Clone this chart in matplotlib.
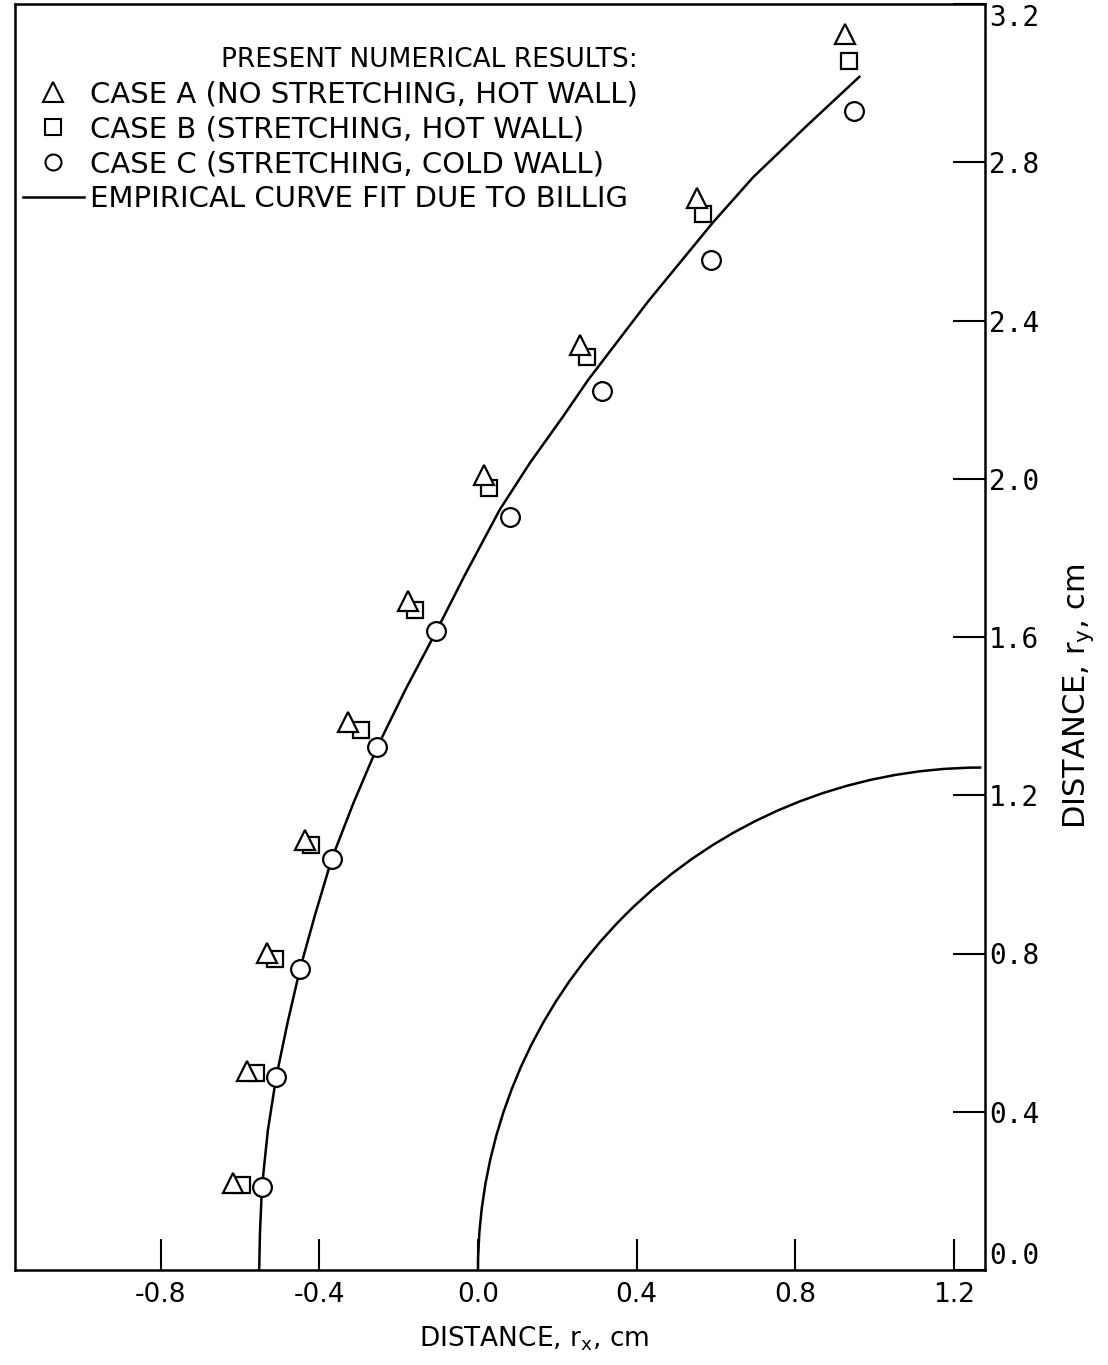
import matplotlib
matplotlib.use("Agg")
import matplotlib.pyplot as plt
from matplotlib.lines import Line2D
from matplotlib.patches import Arc

# case A: no stretching, hot wall
case_a_x = [-0.619, -0.583, -0.533, -0.436, -0.327, -0.177, 0.015, 0.257, 0.552, 0.927]
case_a_y = [0.219, 0.504, 0.802, 1.087, 1.386, 1.690, 2.010, 2.339, 2.710, 3.123]
# case B: stretching, hot wall
case_b_x = [-0.595, -0.560, -0.512, -0.421, -0.296, -0.159, 0.028, 0.274, 0.567, 0.936]
case_b_y = [0.215, 0.499, 0.786, 1.075, 1.364, 1.669, 1.977, 2.308, 2.670, 3.057]
# case C: stretching, cold wall
case_c_x = [-0.546, -0.509, -0.449, -0.369, -0.254, -0.106, 0.081, 0.312, 0.588, 0.949]
case_c_y = [0.210, 0.488, 0.760, 1.038, 1.323, 1.614, 1.904, 2.221, 2.553, 2.930]

# empirical curve fit (Billig)
billig_x = [-0.552, -0.550, -0.545, -0.530, -0.509, -0.480, -0.449, -0.411, -0.369,
            -0.314, -0.254, -0.183, -0.106, -0.035, 0.055, 0.131, 0.215, 0.278,
            0.429, 0.592, 0.694, 0.825, 0.962]
billig_y = [0.000, 0.094, 0.210, 0.354, 0.488, 0.627, 0.761, 0.898, 1.039,
            1.181, 1.322, 1.467, 1.613, 1.753, 1.922, 2.040, 2.158, 2.250,
            2.448, 2.647, 2.762, 2.888, 3.016]

# body: circle of radius 1.27 cm (nose at origin)
body_radius = 1.27

x_ticks = [-0.8, -0.4, 0.0, 0.4, 0.8, 1.2]
y_ticks = [0.0, 0.4, 0.8, 1.2, 1.6, 2.0, 2.4, 2.8, 3.2]

plt.rcParams['font.family'] = ['DejaVu Sans']

fig = plt.figure(figsize=(11.08, 13.65), dpi=100)
ax = fig.add_axes([15 / 1108, 95 / 1365, 970 / 1108, 1266 / 1365])

lw = 1.8
ax.plot(billig_x, billig_y, color='black', lw=lw, zorder=2)
ax.add_patch(Arc((body_radius, 0.0), 2 * body_radius, 2 * body_radius,
                 theta1=90, theta2=180, color='black', lw=lw, zorder=2))

ax.plot(case_b_x, case_b_y, 's', ms=11.5, mfc='white', mec='black', mew=1.6, zorder=3)
ax.plot(case_a_x, case_a_y, '^', ms=14.5, mfc='white', mec='black', mew=1.6, zorder=4)
ax.plot(case_c_x, case_c_y, 'o', ms=13.5, mfc='white', mec='black', mew=1.6, zorder=4)

ax.set_xlim(-1.168, 1.279)
ax.set_ylim(0.0, 3.2)

for s in ax.spines.values():
    s.set_linewidth(1.8)

ax.set_xticks(x_ticks)
ax.set_xticklabels([f"{v:.1f}" for v in x_ticks])
ax.set_yticks(y_ticks)
ax.set_yticklabels([f"{v:.1f}" for v in y_ticks])
ax.yaxis.tick_right()
ax.yaxis.set_label_position('right')
ax.tick_params(axis='x', direction='in', length=22, width=1.5, pad=9, labelsize=19)
ax.tick_params(axis='y', direction='in', length=23, width=1.5, pad=3, labelsize=20)
for lab in ax.get_yticklabels():
    lab.set_family('DejaVu Sans Mono')
ylabs = ax.get_yticklabels()
ylabs[0].set_va('bottom')
ylabs[-1].set_va('top')

ax.set_xlabel(r"DISTANCE, $\mathregular{r_x}$, cm", fontsize=19)
ax.xaxis.set_label_coords(0.535, -0.043)
ax.set_ylabel(r"DISTANCE, $\mathregular{r_y}$, cm", fontsize=22)
ax.yaxis.set_label_coords(1.078, 0.453)

handles = [
    Line2D([], [], ls='none', marker='^', ms=14, mfc='white', mec='black', mew=1.5),
    Line2D([], [], ls='none', marker='s', ms=11, mfc='white', mec='black', mew=1.5),
    Line2D([], [], ls='none', marker='o', ms=11.5, mfc='white', mec='black', mew=1.5),
    Line2D([], [], color='black', lw=lw),
]
labels = [
    "CASE A (NO STRETCHING, HOT WALL)",
    "CASE B (STRETCHING, HOT WALL)",
    "CASE C (STRETCHING, COLD WALL)",
    "EMPIRICAL CURVE FIT DUE TO BILLIG",
]
leg = ax.legend(handles, labels, loc='upper left', bbox_to_anchor=(0.008, 0.966),
                frameon=False, fontsize=21, title="PRESENT NUMERICAL RESULTS:",
                title_fontsize=19, alignment='right', handlelength=2.1,
                handletextpad=0.2, labelspacing=0.24, borderpad=0, borderaxespad=0)

fig.savefig("out.png", dpi=100)
